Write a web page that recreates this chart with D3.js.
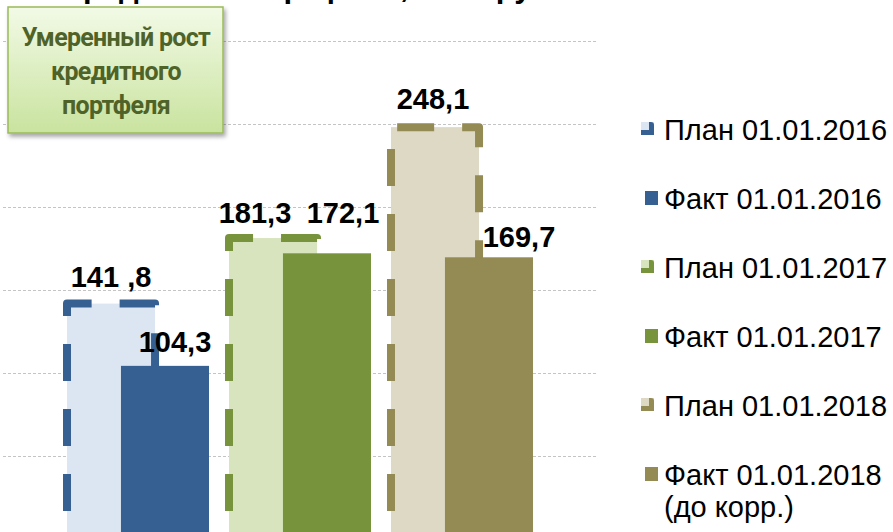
<!DOCTYPE html>
<html lang="ru">
<head>
<meta charset="UTF-8" />
<title>Кредитный портфель</title>
<script src="https://d3js.org/d3.v7.min.js"></script>
<style>
  body { margin: 0; background: #ffffff; overflow: hidden; }
  svg { display: block; font-family: "Liberation Sans", Arial, sans-serif; }
</style>
</head>
<body>
<div id="chart"></div>
<script>
// data (plan vs fact by year)
const years = ["2016", "2017", "2018"];
const planValues = [141.8, 181.3, 248.1];
const factValues = [104.3, 172.1, 169.7];
const planLabels = ["141 ,8", "181,3", "248,1"];
const factLabels = ["104,3", "172,1", "169,7"];
const yTicks = [0, 50, 100, 150, 200, 250, 300];
const legendLabels = [
  ["План 01.01.2016"], ["Факт 01.01.2016"],
  ["План 01.01.2017"], ["Факт 01.01.2017"],
  ["План 01.01.2018"], ["Факт 01.01.2018", "(до корр.)"]
];
const calloutLines = ["Умеренный рост", "кредитного", "портфеля"];

// colours
const planFill = ["#dce6f2", "#d7e4bd", "#ddd9c4"];
const darkFill = ["#376092", "#77933c", "#948a54"];

// hand-moved data labels in the original: [dx from bar centre, baseline above bar top]
const planShift = [[0, 17], [-18, 15], [-2, 18]];
const factShift = [[10, 14], [16, 30], [30, 10]];

const W = 893, H = 532;
const svg = d3.select("#chart").append("svg")
  .attr("width", W).attr("height", H);

const defs = svg.append("defs");
const grad = defs.append("linearGradient")
  .attr("id", "calloutGrad").attr("x1", 0).attr("y1", 0).attr("x2", 0).attr("y2", 1);
grad.append("stop").attr("offset", "0%").attr("stop-color", "#f2fae6");
grad.append("stop").attr("offset", "100%").attr("stop-color", "#c9e39f");
const shadow = defs.append("filter").attr("id", "shadow")
  .attr("x", "-10%").attr("y", "-10%").attr("width", "130%").attr("height", "130%");
shadow.append("feDropShadow")
  .attr("dx", 2).attr("dy", 3).attr("stdDeviation", 2)
  .attr("flood-color", "#000").attr("flood-opacity", 0.35);

// the plot is cropped: zero line sits just below the window
const y = d3.scaleLinear().domain([0, 300]).range([539, 41]);
const x = d3.scaleBand().domain(years)
  .range([57, 543]).paddingInner(20 / 162).paddingOuter(10 / 162);
const barW = x.bandwidth() * 0.62;
const factX = d => x(d) + x.bandwidth() - barW;

// title, mostly above the crop (only its descenders show)
svg.append("text")
  .attr("x", 64).attr("y", -3)
  .attr("font-size", 31).attr("font-weight", "bold").attr("fill", "#000")
  .text("Кредитный портфель, млн. руб.");

// gridlines
svg.append("g").selectAll("line")
  .data(yTicks).join("line")
  .attr("x1", 3).attr("x2", 597)
  .attr("y1", d => Math.round(y(d)) + 0.5).attr("y2", d => Math.round(y(d)) + 0.5)
  .attr("stroke", "#c4c4c4").attr("stroke-width", 1)
  .attr("stroke-dasharray", "3,2");

// plan bars: light fill with thick dashed outline
const plan = svg.append("g").selectAll("g")
  .data(years).join("g");
plan.append("rect")
  .attr("x", d => x(d)).attr("width", barW)
  .attr("y", (d, i) => y(planValues[i]))
  .attr("height", (d, i) => y(0) - y(planValues[i]))
  .attr("fill", (d, i) => planFill[i]);
plan.append("path")
  .attr("d", (d, i) => {
    const x0 = x(d), x1 = x(d) + barW, top = y(planValues[i]), bot = y(0);
    return `M${x0},${bot}V${top}H${x1}V${bot}`;
  })
  .attr("fill", "none")
  .attr("stroke", (d, i) => darkFill[i])
  .attr("stroke-width", 8)
  .attr("stroke-linejoin", "round")
  .attr("stroke-dasharray", "37,28")
  .attr("stroke-dashoffset", 37);

// fact bars
svg.append("g").selectAll("rect")
  .data(years).join("rect")
  .attr("x", d => factX(d)).attr("width", barW)
  .attr("y", (d, i) => y(factValues[i]))
  .attr("height", (d, i) => y(0) - y(factValues[i]))
  .attr("fill", (d, i) => darkFill[i]);

// data labels
const labels = svg.append("g")
  .attr("font-size", 29).attr("font-weight", "bold")
  .attr("text-anchor", "middle").attr("fill", "#000");
labels.selectAll(".plan-label")
  .data(years).join("text").attr("class", "plan-label")
  .attr("x", (d, i) => x(d) + barW / 2 + planShift[i][0])
  .attr("y", (d, i) => y(planValues[i]) - planShift[i][1])
  .text((d, i) => planLabels[i]);
labels.selectAll(".fact-label")
  .data(years).join("text").attr("class", "fact-label")
  .attr("x", (d, i) => factX(d) + barW / 2 + factShift[i][0])
  .attr("y", (d, i) => y(factValues[i]) - factShift[i][1])
  .text((d, i) => factLabels[i]);

// callout box
const callout = svg.append("g");
callout.append("rect")
  .attr("x", 8).attr("y", 7).attr("width", 215).attr("height", 126)
  .attr("fill", "url(#calloutGrad)")
  .attr("stroke", "#9bbb59").attr("stroke-width", 1.5)
  .attr("filter", "url(#shadow)");
callout.append("text")
  .attr("text-anchor", "middle")
  .attr("font-family", "Roboto, 'Open Sans', sans-serif")
  .attr("font-weight", "bold").attr("font-size", 25)
  .attr("letter-spacing", -0.7)
  .attr("fill", "#4f6228")
  .selectAll("tspan").data(calloutLines).join("tspan")
  .attr("x", 116).attr("y", (d, i) => 46 + i * 34)
  .text(d => d);

// legend
const legend = svg.append("g").attr("transform", "translate(641,129)");
const rowH = 69;
const item = legend.selectAll("g")
  .data(legendLabels).join("g")
  .attr("transform", (d, i) => `translate(0,${i * rowH})`);
item.each(function (d, i) {
  const g = d3.select(this);
  const k = Math.floor(i / 2);
  if (i % 2 === 0) {
    // small copy of the dashed-outline bar: light fill, dark right/bottom edge
    g.append("rect").attr("x", 0).attr("y", -7).attr("width", 13).attr("height", 13)
      .attr("fill", planFill[k]);
    g.append("path")
      .attr("d", "M0,1H8V-7H10A3,3 0 0 1 13,-4V6H0Z")
      .attr("fill", darkFill[k]);
  } else {
    g.append("rect").attr("x", 4).attr("y", -7).attr("width", 13).attr("height", 14)
      .attr("fill", darkFill[k]);
  }
});
item.append("text")
  .attr("font-size", 29).attr("fill", "#000")
  .selectAll("tspan").data(d => d).join("tspan")
  .attr("x", 23).attr("y", (d, i) => 11 + i * 32)
  .text(d => d);
</script>
</body>
</html>
